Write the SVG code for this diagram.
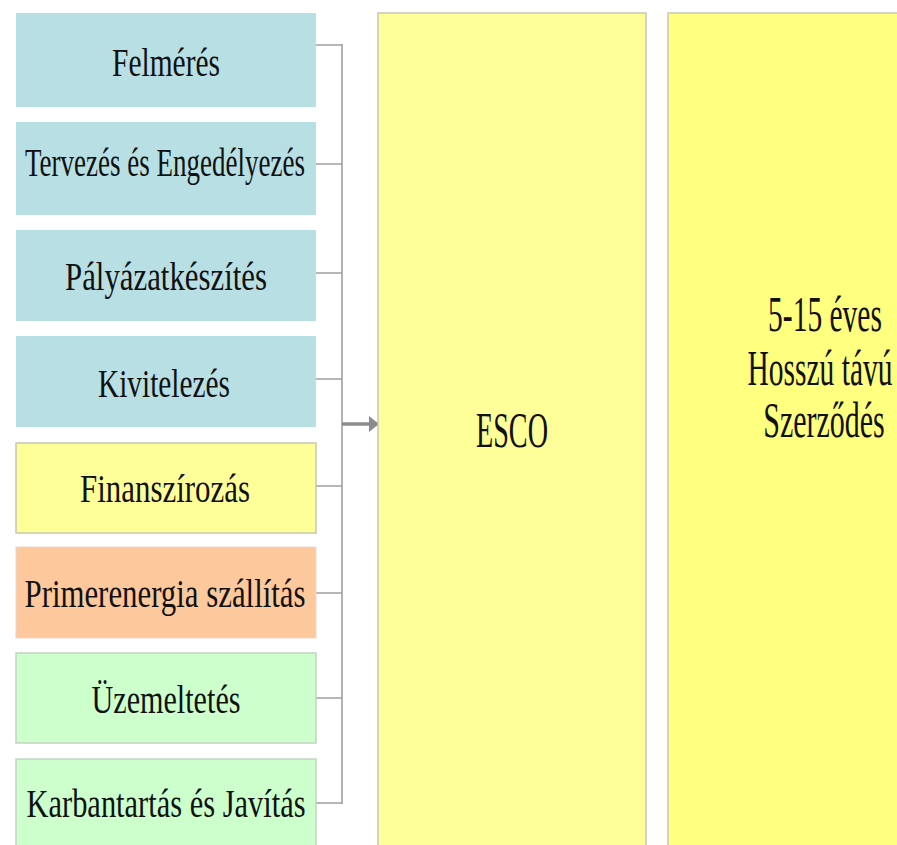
<svg xmlns="http://www.w3.org/2000/svg" width="897" height="845" viewBox="0 0 897 845">
<defs>
<style>
.t{font-family:"Liberation Serif","Times New Roman",serif;fill:#111;text-anchor:middle}
.s{font-size:40px}
.b{font-size:50px}
.blue{fill:#B8DFE3}
.yel{fill:#FFFF99;stroke:#c8c8b4;stroke-width:1.5}
.ora{fill:#FDC89C;stroke:#e8d8c8;stroke-width:1}
.grn{fill:#CCFFCC;stroke:#c4d4c4;stroke-width:1.5}
.big1{fill:#FFFF99;stroke:#c8c8b4;stroke-width:1.5}
.big2{fill:#FFFF80}
.edge{stroke:#c8c8b4;stroke-width:1.5;fill:none}
.ln{stroke:#a0a0a0;stroke-width:1.6;fill:none}
</style>
<marker id="ah" markerWidth="10" markerHeight="16" refX="9" refY="8" orient="auto" markerUnits="userSpaceOnUse">
<path d="M0,0 L10,8 L0,16 Z" fill="#8c8c8c"/>
</marker>
</defs>
<rect width="897" height="845" fill="#fff"/>
<g id="connectors">
<path class="ln" d="M316,45 H342 M316,164 H342 M316,273 H342 M316,379 H342 M316,486 H342 M316,593 H342 M316,698 H342 M316,803 H342 M342,44 V804"/>
<line x1="342" y1="424" x2="378" y2="424" stroke="#8c8c8c" stroke-width="3.5" marker-end="url(#ah)"/>
</g>
<g id="felmeres"><rect class="blue" x="16" y="13" width="300" height="94"/><text class="t s" x="166" y="76" textLength="108" lengthAdjust="spacingAndGlyphs">Felmérés</text></g>
<g id="tervezes"><rect class="blue" x="16" y="122" width="300" height="93"/><text class="t s" x="165" y="176" textLength="280" lengthAdjust="spacingAndGlyphs">Tervezés és Engedélyezés</text></g>
<g id="palyazat"><rect class="blue" x="16" y="230" width="300" height="91"/><text class="t s" x="166" y="290" textLength="202" lengthAdjust="spacingAndGlyphs">Pályázatkészítés</text></g>
<g id="kivitelezes"><rect class="blue" x="16" y="336" width="300" height="91"/><text class="t s" x="164" y="397" textLength="132" lengthAdjust="spacingAndGlyphs">Kivitelezés</text></g>
<g id="finanszirozas"><rect class="yel" x="16" y="443" width="300" height="90"/><text class="t s" x="165" y="502" textLength="170" lengthAdjust="spacingAndGlyphs">Finanszírozás</text></g>
<g id="primerenergia"><rect class="ora" x="16" y="547" width="300" height="91"/><text class="t s" x="165" y="607" textLength="281" lengthAdjust="spacingAndGlyphs">Primerenergia szállítás</text></g>
<g id="uzemeltetes"><rect class="grn" x="16" y="653" width="300" height="90"/><text class="t s" x="166" y="713" textLength="149" lengthAdjust="spacingAndGlyphs">Üzemeltetés</text></g>
<g id="karbantartas"><rect class="grn" x="16" y="759" width="300" height="100"/><text class="t s" x="166" y="817" textLength="279" lengthAdjust="spacingAndGlyphs">Karbantartás és Javítás</text></g>
<g id="esco"><rect class="big1" x="378" y="13" width="268" height="850"/><text class="t b" x="512" y="447" textLength="72" lengthAdjust="spacingAndGlyphs">ESCO</text></g>
<g id="szerzodes"><rect class="big2" x="668" y="13" width="229" height="832"/>
<path class="edge" d="M668,845 V13 H897"/>
<text class="t b" transform="translate(825,331) scale(0.59,1)">5-15 éves</text>
<text class="t b" transform="translate(820,385) scale(0.59,1)">Hosszú távú</text>
<text class="t b" transform="translate(824,437) scale(0.6,1)">Szerződés</text></g>
</svg>
